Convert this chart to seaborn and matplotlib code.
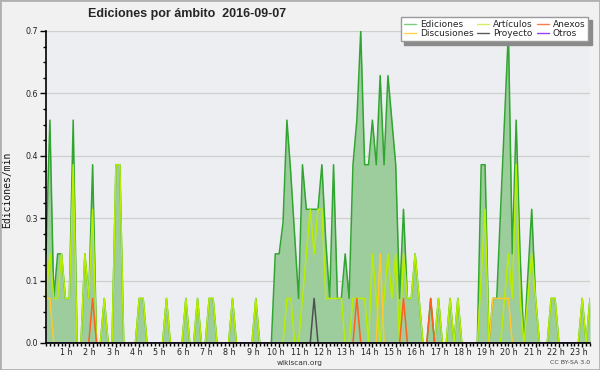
import numpy as np
import pandas as pd
import matplotlib
matplotlib.use("Agg")
import matplotlib.pyplot as plt
import matplotlib.transforms as mtransforms
from matplotlib.lines import Line2D
from matplotlib.patches import Rectangle
from matplotlib.ticker import MultipleLocator, FormatStrFormatter, FixedLocator
import seaborn as sns

# edits per minute, one value per 10-minute slot (00:00 ... 23:20), one row per hour
ediciones = [
    0.2, 0.5, 0.1, 0.2, 0.2, 0.1,    # 00 h
    0.1, 0.5, 0.0, 0.0, 0.2, 0.1,    # 01 h
    0.4, 0.0, 0.0, 0.1, 0.0, 0.0,    # 02 h
    0.4, 0.4, 0.0, 0.0, 0.0, 0.0,    # 03 h
    0.1, 0.1, 0.0, 0.0, 0.0, 0.0,    # 04 h
    0.0, 0.1, 0.0, 0.0, 0.0, 0.0,    # 05 h
    0.1, 0.0, 0.0, 0.1, 0.0, 0.0,    # 06 h
    0.1, 0.1, 0.0, 0.0, 0.0, 0.0,    # 07 h
    0.1, 0.0, 0.0, 0.0, 0.0, 0.0,    # 08 h
    0.1, 0.0, 0.0, 0.0, 0.0, 0.2,    # 09 h
    0.2, 0.27, 0.5, 0.38, 0.24, 0.1, # 10 h
    0.4, 0.3, 0.3, 0.3, 0.3, 0.4,    # 11 h
    0.23, 0.1, 0.4, 0.1, 0.1, 0.2,   # 12 h
    0.1, 0.4, 0.5, 0.7, 0.4, 0.4,    # 13 h
    0.5, 0.4, 0.6, 0.4, 0.6, 0.5,    # 14 h
    0.4, 0.1, 0.3, 0.1, 0.1, 0.2,    # 15 h
    0.1, 0.0, 0.0, 0.1, 0.0, 0.1,    # 16 h
    0.0, 0.0, 0.1, 0.0, 0.1, 0.0,    # 17 h
    0.0, 0.0, 0.0, 0.0, 0.4, 0.4,    # 18 h
    0.0, 0.1, 0.1, 0.3, 0.5, 0.7,    # 19 h
    0.2, 0.5, 0.2, 0.0, 0.15, 0.3,   # 20 h
    0.1, 0.0, 0.0, 0.0, 0.1, 0.1,    # 21 h
    0.0, 0.0, 0.0, 0.0, 0.0, 0.0,    # 22 h
    0.1, 0.0, 0.1,                   # 23 h
]

articulos = [
    0.1, 0.2, 0.1, 0.1, 0.2, 0.1,
    0.1, 0.4, 0.0, 0.0, 0.2, 0.1,
    0.3, 0.0, 0.0, 0.1, 0.0, 0.0,
    0.4, 0.4, 0.0, 0.0, 0.0, 0.0,
    0.1, 0.1, 0.0, 0.0, 0.0, 0.0,
    0.0, 0.1, 0.0, 0.0, 0.0, 0.0,
    0.1, 0.0, 0.0, 0.1, 0.0, 0.0,
    0.1, 0.1, 0.0, 0.0, 0.0, 0.0,
    0.1, 0.0, 0.0, 0.0, 0.0, 0.0,
    0.1, 0.0, 0.0, 0.0, 0.0, 0.0,
    0.0, 0.0, 0.1, 0.1, 0.0, 0.0,
    0.1, 0.2, 0.3, 0.2, 0.3, 0.3,
    0.1, 0.1, 0.1, 0.1, 0.1, 0.0,
    0.0, 0.1, 0.1, 0.1, 0.1, 0.0,
    0.2, 0.1, 0.0, 0.1, 0.2, 0.1,
    0.2, 0.0, 0.2, 0.1, 0.1, 0.2,
    0.1, 0.0, 0.0, 0.0, 0.0, 0.1,
    0.0, 0.0, 0.1, 0.0, 0.1, 0.0,
    0.0, 0.0, 0.0, 0.0, 0.15, 0.3,
    0.0, 0.0, 0.0, 0.0, 0.1, 0.2,
    0.1, 0.4, 0.1, 0.0, 0.1, 0.2,
    0.1, 0.0, 0.0, 0.0, 0.1, 0.1,
    0.0, 0.0, 0.0, 0.0, 0.0, 0.0,
    0.1, 0.0, 0.1,
]

# sparse series: slot start -> edits per minute (zero elsewhere)
discusiones = {"00:00": 0.1, "00:10": 0.1, "14:20": 0.2,
               "19:10": 0.1, "19:20": 0.1, "19:30": 0.1, "19:40": 0.1, "19:50": 0.1}
anexos = {"02:00": 0.1, "13:20": 0.1, "15:20": 0.1, "16:30": 0.1}
proyecto = {"11:30": 0.1}
otros = {}

hour_ticks = list(range(1, 24))
hour_labels = ["1 h", "2 h", "3 h", "4 h", "5 h", "6 h", "7 h", "8 h", "9 h", "10 h",
               "11 h", "12 h", "13 h", "14 h", "15 h", "16 h", "17 h", "18 h", "19 h",
               "20 h", "21 h", "22 h", "23 h"]

order = ["Ediciones", "Artículos", "Discusiones", "Anexos", "Proyecto", "Otros"]
line_colors = {"Ediciones": "#30a530", "Artículos": "#b8ee00", "Discusiones": "#ffc82a",
               "Anexos": "#ff6020", "Proyecto": "#505050", "Otros": "#9a40f0"}
legend_colors = {"Ediciones": "#7ccc7c", "Artículos": "#d2f060", "Discusiones": "#ffd24a",
                 "Anexos": "#ff7a4a", "Proyecto": "#5a5a5a", "Otros": "#9a40f0"}

n = len(ediciones)
hours = np.arange(n) / 6.0


def expand(spikes):
    out = np.zeros(n)
    for t, v in spikes.items():
        h, m = map(int, t.split(":"))
        out[(h * 60 + m) // 10] = v
    return out


series = {"Ediciones": np.array(ediciones), "Artículos": np.array(articulos),
          "Discusiones": expand(discusiones), "Anexos": expand(anexos),
          "Proyecto": expand(proyecto), "Otros": expand(otros)}
df = pd.concat([pd.DataFrame({"hora": hours, "valor": v, "ambito": k})
                for k, v in series.items()], ignore_index=True)

sns.set_theme(style="white")
plt.rcParams["font.family"] = ["DejaVu Sans"]

fig = plt.figure(figsize=(6, 3.7), dpi=100, facecolor="#f1f1f1")
ax = fig.add_axes([46 / 600, 27 / 370, 544 / 600, 312 / 370])
ax.set_facecolor("#eceef1")

ax.fill_between(hours, series["Ediciones"], color="#9dcc9d", lw=0, zorder=1)
sns.lineplot(data=df, x="hora", y="valor", hue="ambito", hue_order=order,
             palette=line_colors, linewidth=1.1, legend=False, ax=ax, zorder=2)

ax.set_xlim(0, hours[-1])
ax.set_ylim(0, 0.7)
ax.yaxis.set_major_locator(MultipleLocator(0.14))
ax.yaxis.set_minor_locator(MultipleLocator(0.035))
ax.yaxis.set_major_formatter(FormatStrFormatter("%.1f"))
ax.xaxis.set_major_locator(FixedLocator(hour_ticks))
ax.set_xticklabels(hour_labels)
ax.xaxis.set_minor_locator(MultipleLocator(1 / 6))
ax.grid(axis="y", which="major", color="#cfcfcf", lw=0.9)
ax.set_axisbelow(True)

for side in ["top", "right"]:
    ax.spines[side].set_visible(False)
for side in ["left", "bottom"]:
    ax.spines[side].set_color("black")
    ax.spines[side].set_linewidth(1.2)
    ax.spines[side].set_zorder(3)

ax.tick_params(axis="y", which="major", direction="out", length=4, width=1, color="black",
               labelsize=5.8, labelcolor="#222222", pad=1.5, left=True)
ax.tick_params(axis="x", which="major", direction="out", length=3, width=1, color="black",
               labelsize=5.8, labelcolor="#222222", pad=0.3, bottom=True)
ax.tick_params(which="minor", direction="out", length=2.5, width=1, color="black",
               left=True, bottom=True)
shift = mtransforms.ScaledTranslation(-0.03, 0, fig.dpi_scale_trans)
for lbl in ax.get_xticklabels():
    lbl.set_transform(lbl.get_transform() + shift)

ax.set_xlabel("")
ax.set_ylabel("Ediciones/min", family="DejaVu Sans Mono", fontsize=7, color="#111111")
ax.yaxis.set_label_coords(-0.062, 0.49)

fig.text(187 / 600, 1 - 14 / 370, "Ediciones por ámbito  2016-09-07", ha="center", va="center",
         fontsize=9, fontweight="bold", family=["Liberation Sans", "DejaVu Sans"])
fig.text(300 / 600, 1 - 362.5 / 370, "wikiscan.org", ha="center", va="center",
         fontsize=5.3, color="#333333")
fig.text(590 / 600, 1 - 362.5 / 370, "CC BY-SA 3.0", ha="right", va="center",
         fontsize=4.5, color="#444444")

handles_order = ["Ediciones", "Discusiones", "Artículos", "Proyecto", "Anexos", "Otros"]
handles = [Line2D([], [], color=legend_colors[k], lw=1) for k in handles_order]
leg = fig.legend(handles, handles_order, ncol=3, loc="upper right",
                 bbox_to_anchor=(593 / 600, 1 - 12 / 370), fontsize=6.5, frameon=True,
                 fancybox=False, shadow={"ox": 2.5, "oy": -2.5, "color": "#8a8a8a", "alpha": 1},
                 borderpad=0.35, labelspacing=0.05, columnspacing=0.45, handlelength=1.3,
                 handletextpad=0.45, edgecolor="#9a9a9a")
leg.get_frame().set_linewidth(1)
leg.get_frame().set_facecolor("white")

fig.patches.append(Rectangle((0, 0), 1, 1, transform=fig.transFigure, fill=False,
                             edgecolor="#b0b0b0", lw=2))

fig.savefig("out.png", dpi=100, facecolor=fig.get_facecolor())
